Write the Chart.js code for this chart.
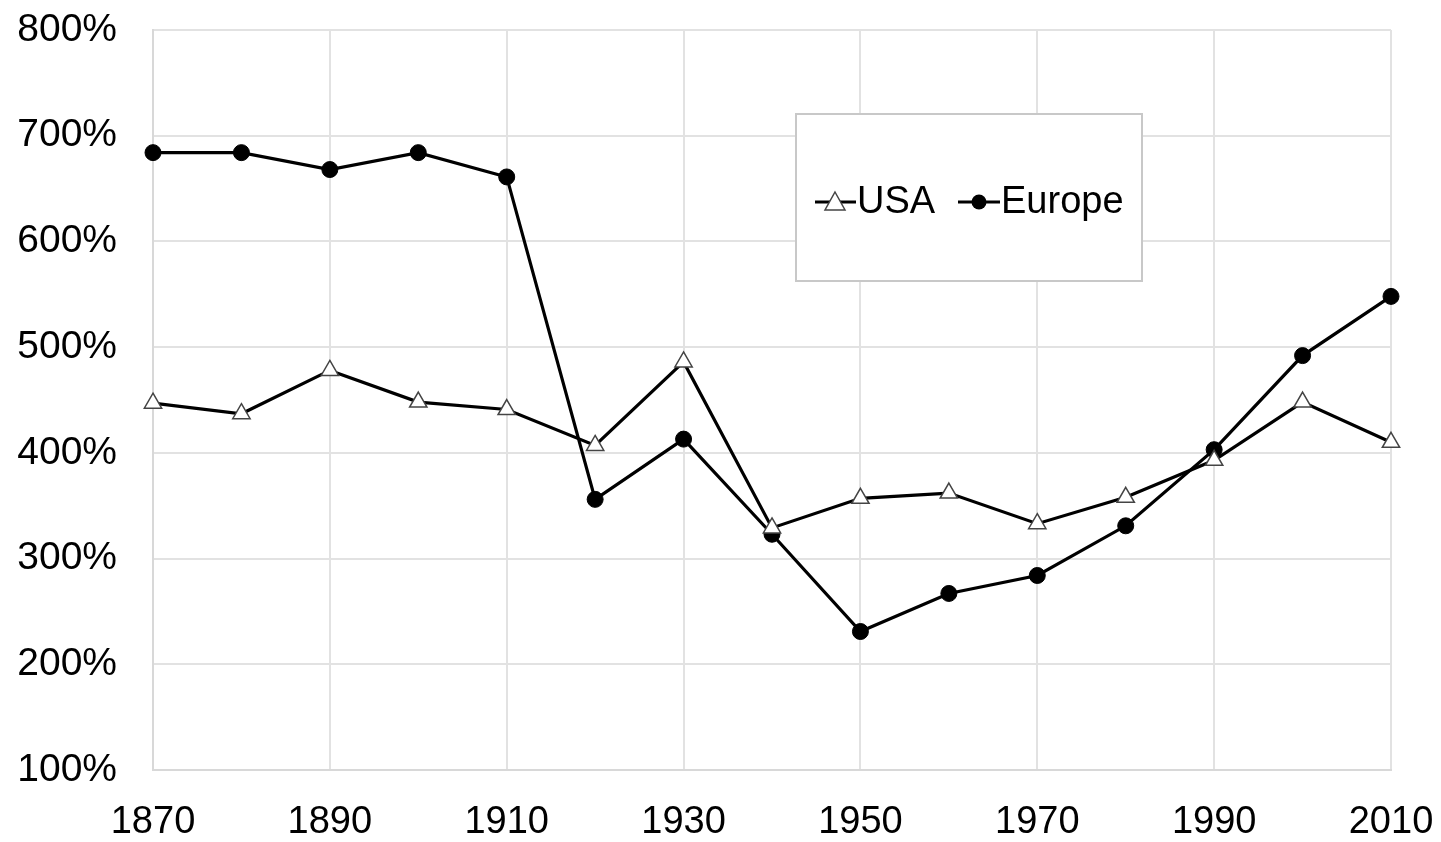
<!DOCTYPE html>
<html><head><meta charset="utf-8">
<script src="https://cdn.jsdelivr.net/npm/chart.js@4/dist/chart.umd.min.js"></script>
<style>html,body{margin:0;padding:0;background:#fff;}#wrap{width:1441px;height:842px;position:relative;}</style>
</head><body><div id="wrap"><canvas id="c" width="1441" height="842"></canvas></div>
<script>
const years = [1870,1880,1890,1900,1910,1920,1930,1940,1950,1960,1970,1980,1990,2000,2010];
const usa = [447,437,478,448,441,407,486,329,357,362,333,358,393,448,410];
const europe = [684,684,668,684,661,356,413,323,231,267,284,331,403,492,548];
const seriesNames = ['USA','Europe'];
const xTicks = [1870,1890,1910,1930,1950,1970,1990,2010];

const FONT = 'Liberation Sans, Arial, sans-serif';

const legendPlugin = {
  id: 'boxLegend',
  afterDraw(chart) {
    const ctx = chart.ctx;
    ctx.save();
    ctx.fillStyle = '#fff';
    ctx.fillRect(796, 114, 346, 167);
    ctx.strokeStyle = '#c8c8c8';
    ctx.lineWidth = 2;
    ctx.strokeRect(796, 114, 346, 167);
    const cy = 202;
    ctx.strokeStyle = '#000'; ctx.lineWidth = 3;
    ctx.beginPath(); ctx.moveTo(815, cy); ctx.lineTo(856, cy); ctx.stroke();
    ctx.beginPath();
    ctx.moveTo(835, cy - 10); ctx.lineTo(845, cy + 8); ctx.lineTo(825, cy + 8); ctx.closePath();
    ctx.fillStyle = '#fff'; ctx.fill();
    ctx.strokeStyle = '#444'; ctx.lineWidth = 1.5; ctx.stroke();
    ctx.strokeStyle = '#000'; ctx.lineWidth = 3;
    ctx.beginPath(); ctx.moveTo(958, cy); ctx.lineTo(1000, cy); ctx.stroke();
    ctx.beginPath(); ctx.arc(979, cy, 7.5, 0, Math.PI * 2); ctx.fillStyle = '#000'; ctx.fill();
    ctx.fillStyle = '#000';
    ctx.font = '38px ' + FONT;
    ctx.textBaseline = 'middle';
    ctx.fillText(seriesNames[0], 857, cy + 1);
    ctx.fillText(seriesNames[1], 1001, cy + 1);
    ctx.restore();
  }
};

new Chart(document.getElementById('c'), {
  type: 'line',
  data: {
    datasets: [
      {
        label: seriesNames[0],
        data: years.map((y, i) => ({x: y, y: usa[i]})),
        borderColor: '#000', borderWidth: 3.2,
        pointStyle: 'triangle', pointRadius: 10,
        pointBackgroundColor: '#fff', pointBorderColor: '#444', pointBorderWidth: 1.5,
        tension: 0, clip: false
      },
      {
        label: seriesNames[1],
        data: years.map((y, i) => ({x: y, y: europe[i]})),
        borderColor: '#000', borderWidth: 3.2,
        pointStyle: 'circle', pointRadius: 8,
        pointBackgroundColor: '#000', pointBorderColor: '#000', pointBorderWidth: 1,
        tension: 0, clip: false
      }
    ]
  },
  options: {
    responsive: false, animation: false,
    layout: {padding: {top: 30, right: 50, left: 0, bottom: 0}},
    plugins: {legend: {display: false}, tooltip: {enabled: false}, title: {display: false}},
    scales: {
      x: {
        type: 'linear', min: 1870, max: 2010,
        afterBuildTicks(s) { s.ticks = xTicks.map(v => ({value: v})); },
        afterFit(s) { s.height = 72; },
        grid: {color: '#e2e2e2', lineWidth: 2, drawTicks: true, tickLength: 24, tickColor: 'rgba(0,0,0,0)'},
        border: {color: '#d8d8d8', width: 2},
        ticks: {color: '#000', font: {family: FONT, size: 38}, padding: 6, maxRotation: 0, autoSkip: false,
          callback: v => String(v)}
      },
      y: {
        min: 100, max: 800,
        afterFit(s) { s.width = 153; },
        grid: {color: '#e2e2e2', lineWidth: 2, drawTicks: true, tickLength: 30, tickColor: 'rgba(0,0,0,0)'},
        border: {color: '#d8d8d8', width: 2},
        ticks: {stepSize: 100, color: '#000', font: {family: FONT, size: 39}, padding: 6,
          callback: v => v + '%'}
      }
    }
  },
  plugins: [legendPlugin]
});
</script></body></html>
